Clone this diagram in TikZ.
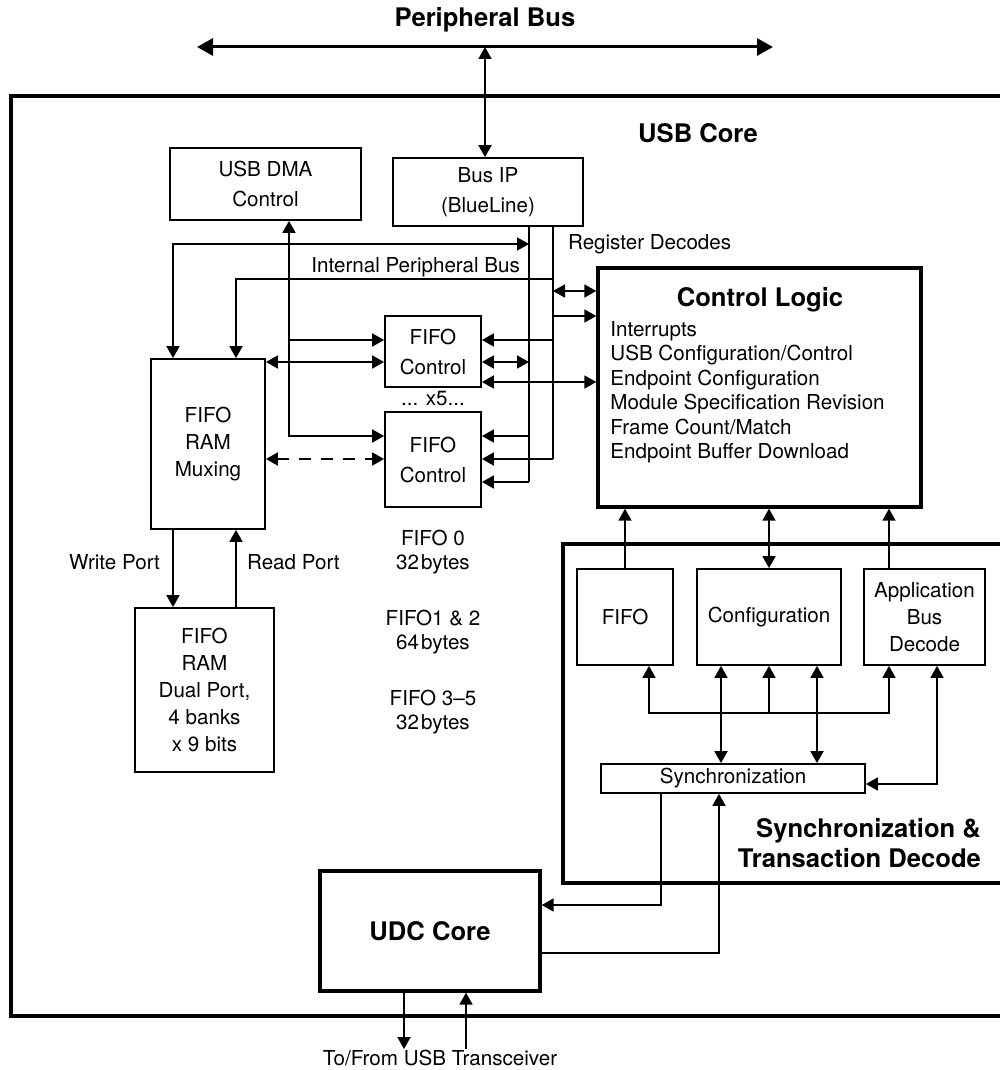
\documentclass[tikz,border=0pt]{standalone}
\usepackage{fontspec}
\setmainfont{TeX Gyre Heros}
\usetikzlibrary{arrows.meta,calc}

\begin{document}
\begin{tikzpicture}[
  x=0.5pt, y=-0.5pt,
  font=\fontsize{10.3}{13.5}\selectfont,
  box/.style={draw, line width=0.9pt, align=center, inner sep=1pt},
  box2/.style={box, font=\fontsize{10.3}{15}\selectfont},
  bigbox/.style={draw, line width=1.7pt, inner sep=0pt},
  title/.style={font=\fontsize{12.8}{15}\selectfont\bfseries, align=center},
  arr/.style={-{Triangle[length=6pt,width=6.5pt]}, line width=0.9pt},
  dbl/.style={{Triangle[length=6pt,width=6.5pt]}-{Triangle[length=6pt,width=6.5pt]}, line width=0.9pt},
  wire/.style={line width=0.9pt},
  busarr/.style={{Triangle[length=8pt,width=8.5pt]}-{Triangle[length=8pt,width=8.5pt]}, line width=1.5pt}
]
\useasboundingbox (0,0) rectangle (1000,1070);
\clip (0,0) rectangle (1000,1070);

% outer blocks
\node[bigbox, minimum width=499.5pt, minimum height=460pt] (core) at (510.5,556) {};
\node[bigbox, minimum width=223.5pt, minimum height=169.5pt] (syncsec) at (786.5,713.5) {};
\node[title] (coretitle) at (698,133) {USB Core};
\node[title, anchor=east, align=right] (synctitle) at (988,843) {Synchronization \&\\Transaction Decode};

% peripheral bus
\node[title] (pbus) at (485,20) {Peripheral Bus};
\coordinate (pbL) at (197,47);
\coordinate (pbR) at (773,47);
\coordinate (pbT) at (485,47);
\draw[busarr] (pbL) -- (pbR);

% boxes
\node[box2, minimum width=95.5pt, minimum height=36pt] (dma) at (265.5,184) {USB DMA\\Control};
\node[box2, minimum width=95pt, minimum height=34pt] (busip) at (488,192) {Bus IP\\(BlueLine)};
\node[box2, minimum width=48pt, minimum height=35.5pt] (fc1) at (433,351.5) {FIFO\\Control};
\node[box2, minimum width=48pt, minimum height=47.5pt] (fc2) at (433,459.5) {FIFO\\Control};
\node[box, minimum width=57pt, minimum height=85pt] (mux) at (208,444) {FIFO\\RAM\\Muxing};
\node[box, minimum width=69.5pt, minimum height=82pt] (ram) at (204.5,690) {FIFO\\RAM\\Dual Port,\\4 banks\\x 9 bits};
\node[bigbox, minimum width=161.5pt, minimum height=119.5pt] (ctrl) at (759.5,387.5) {};
\node[title] (ctrltitle) at (760,300) {Control Logic};
\node[anchor=north west, align=left, inner sep=0pt, font=\fontsize{10.3}{12.25}\selectfont] (ctrlitems) at (610,321)
  {Interrupts\\USB Configuration/Control\\Endpoint Configuration\\Module Specification Revision\\Frame Count/Match\\Endpoint Buffer Download};
\node[box, minimum width=48pt, minimum height=48pt] (sfifo) at (625,617) {FIFO};
\node[box, minimum width=72pt, minimum height=48pt] (scfg) at (769,617) {Configuration};
\node[box, minimum width=60.5pt, minimum height=48pt] (sapp) at (924.5,617) {Application\\Bus\\Decode};
\node[box, minimum width=132pt, minimum height=14.5pt] (synch) at (733,778.5) {Synchronization};
\node[bigbox, minimum width=110pt, minimum height=60pt, title] (udc) at (430,931) {UDC Core};

% labels
\node[anchor=west] (regdec) at (561,244) {Register Decodes};
\node[anchor=east] (ipblabel) at (527,267) {Internal Peripheral Bus};
\node (x5) at (433,399) {... x5...};
\node[font=\fontsize{10.3}{12}\selectfont, align=center] (f0) at (433,552) {FIFO 0\\32\kern1pt bytes};
\node[font=\fontsize{10.3}{12}\selectfont, align=center] (f12) at (433,632) {FIFO1 \& 2\\64\kern1pt bytes};
\node[font=\fontsize{10.3}{12}\selectfont, align=center] (f35) at (433,712) {FIFO 3--5\\32\kern1pt bytes};
\node[anchor=east] (wport) at (167,562) {Write Port};
\node[anchor=west] (rport) at (240,562) {Read Port};
\node (xcvr) at (440,1058) {To/From USB Transceiver};

% columns and rows
\coordinate (colA) at (173,0);
\coordinate (colB) at (236,0);
\coordinate (colD) at (289,0);
\coordinate (ipL) at (529,226);
\coordinate (ipR) at (553,226);
\coordinate (rowA) at (0,244);
\coordinate (rowB) at (0,279);
\coordinate (rReg1) at (0,291);
\coordinate (rReg2) at (0,316);
\coordinate (rF1a) at (0,340);
\coordinate (rF1b) at (0,362);
\coordinate (rF1c) at (0,382);
\coordinate (rF2a) at (0,436);
\coordinate (rF2b) at (0,459);
\coordinate (rF2c) at (0,482);
\coordinate (cF) at (649,0);
\coordinate (cC1) at (721,0);
\coordinate (cC2) at (817,0);
\coordinate (cApp) at (889,0);
\coordinate (cA2) at (937,0);
\coordinate (rBus) at (0,713);
\coordinate (rSync) at (0,784);
\coordinate (cS1) at (661,0);
\coordinate (cS2) at (719,0);
\coordinate (rU1) at (0,905);
\coordinate (rU2) at (0,953);
\coordinate (cT1) at (404,0);
\coordinate (cT2) at (466,0);
\coordinate (rT) at (0,1049);

% bus IP
\draw[dbl] (pbT) -- (pbT |- busip.north);
\draw[wire] (ipL) -- (ipL |- rF2c);
\draw[wire] (ipR) -- (ipR |- rF2b);
\draw[dbl] (ipL |- rowA) -| (colA |- mux.north);
\draw[arr] (ipR |- rowB) -| (colB |- mux.north);
\draw[dbl] (ipR |- rReg1) -- (ctrl.west |- rReg1);
\draw[arr] (ipR |- rReg2) -- (ctrl.west |- rReg2);

% fifo control
\draw[dbl] (colD |- dma.south) |- (fc2.west |- rF2a);
\draw[arr] (colD |- rF1a) -- (fc1.west |- rF1a);
\draw[dbl] (mux.east |- rF1b) -- (fc1.west |- rF1b);
\draw[dbl, dashed, dash pattern=on 6pt off 5pt] (mux.east |- rF2b) -- (fc2.west |- rF2b);
\draw[arr] (ipR |- rF1a) -- (fc1.east |- rF1a);
\draw[dbl] (fc1.east |- rF1b) -- (ipL |- rF1b);
\draw[dbl] (fc1.east |- rF1c) -- (ctrl.west |- rF1c);
\draw[arr] (ipL |- rF2a) -- (fc2.east |- rF2a);
\draw[arr] (ipR |- rF2b) -- (fc2.east |- rF2b);
\draw[arr] (ipL |- rF2c) -- (fc2.east |- rF2c);

% fifo ram
\draw[arr] (colA |- mux.south) -- (colA |- ram.north);
\draw[arr] (colB |- ram.north) -- (colB |- mux.south);

% sync section
\draw[arr] (sfifo.north) -- (ctrl.south -| sfifo.north);
\draw[dbl] (ctrl.south -| scfg.north) -- (scfg.north);
\draw[arr] (cApp |- sapp.north) -- (cApp |- ctrl.south);
\draw[dbl] (cF |- sfifo.south) -- (cF |- rBus) -- (cApp |- rBus) -- (cApp |- sapp.south);
\draw[arr] (scfg.south |- rBus) -- (scfg.south);
\draw[dbl] (cC1 |- scfg.south) -- (cC1 |- synch.north);
\draw[dbl] (cC2 |- scfg.south) -- (cC2 |- synch.north);
\draw[dbl] (cA2 |- sapp.south) |- (synch.east |- rSync);

% udc
\draw[arr] (cS1 |- synch.south) |- (udc.east |- rU1);
\draw[arr] (udc.east |- rU2) -| (cS2 |- synch.south);
\draw[arr] (cT1 |- udc.south) -- (cT1 |- rT);
\draw[arr] (cT2 |- rT) -- (cT2 |- udc.south);
\end{tikzpicture}
\end{document}
